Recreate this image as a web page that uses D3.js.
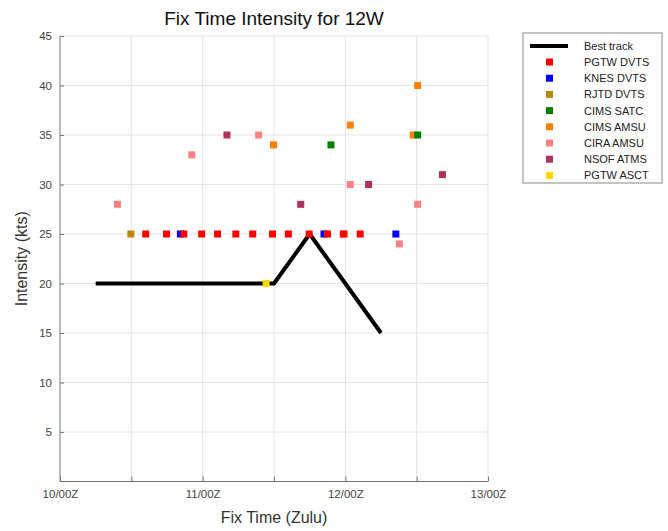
<!doctype html>
<html lang="en">
<head>
	<meta charset="utf-8">
	<title>Fix Time Intensity for 12W</title>
	<script src="https://cdn.jsdelivr.net/npm/d3@7"></script>
	<style>
		body { margin: 0; background: #fff; font-family: "Liberation Sans", Arial, sans-serif; }
		.grid line { stroke: #e4e4e4; }
		.axis text { fill: #444; font-size: 11.5px; }
	</style>
</head>
<body>
	<div id="chart"></div>

	<script>
		// fix times are DD/HH:MM in Zulu
		var xTickLabels = ["10/00Z", "11/00Z", "12/00Z", "13/00Z"];
		var yTicks = [5, 10, 15, 20, 25, 30, 35, 40, 45];

		var bestTrackTimes = ["10/06:00", "10/12:00", "10/18:00", "11/00:00", "11/06:00", "11/12:00", "11/18:00", "12/00:00", "12/06:00"];
		var bestTrackKts = [20, 20, 20, 20, 20, 20, 25, 20, 15];

		var pgtwDvtsTimes = ["10/14:25", "10/17:55", "10/20:50", "10/23:50", "11/02:30", "11/05:35", "11/08:25", "11/11:45", "11/14:25", "11/17:55", "11/21:00", "11/23:40", "12/02:30"];
		var pgtwDvtsKts = [25, 25, 25, 25, 25, 25, 25, 25, 25, 25, 25, 25, 25];

		var knesDvtsTimes = ["10/20:15", "11/20:25", "12/08:30"];
		var knesDvtsKts = [25, 25, 25];

		var rjtdDvtsTimes = ["10/11:55", "11/23:50"];
		var rjtdDvtsKts = [25, 25];

		var cimsSatcTimes = ["11/21:35", "12/12:10"];
		var cimsSatcKts = [34, 35];

		var cimsAmsuTimes = ["11/11:55", "12/00:50", "12/11:25", "12/12:10"];
		var cimsAmsuKts = [34, 36, 35, 40];

		var ciraAmsuTimes = ["10/09:40", "10/22:10", "11/09:25", "12/00:50", "12/09:05", "12/12:10"];
		var ciraAmsuKts = [28, 33, 35, 30, 24, 28];

		var nsofAtmsTimes = ["11/04:05", "11/16:30", "12/03:55", "12/16:20"];
		var nsofAtmsKts = [35, 28, 30, 31];

		var pgtwAsctTimes = ["11/10:40"];
		var pgtwAsctKts = [20];

		var parseTime = d3.utcParse("%d/%H:%M");

		function makeSeries(name, color, times, kts) {
			return {
				name: name,
				color: color,
				points: times.map(function(t, i) { return { time: parseTime(t), kts: kts[i] }; })
			};
		}

		var series = [
			makeSeries("PGTW DVTS", "#ff0000", pgtwDvtsTimes, pgtwDvtsKts),
			makeSeries("KNES DVTS", "#0000ff", knesDvtsTimes, knesDvtsKts),
			makeSeries("RJTD DVTS", "#b8860b", rjtdDvtsTimes, rjtdDvtsKts),
			makeSeries("CIMS SATC", "#008000", cimsSatcTimes, cimsSatcKts),
			makeSeries("CIMS AMSU", "#ff8000", cimsAmsuTimes, cimsAmsuKts),
			makeSeries("CIRA AMSU", "#ff8080", ciraAmsuTimes, ciraAmsuKts),
			makeSeries("NSOF ATMS", "#b03060", nsofAtmsTimes, nsofAtmsKts),
			makeSeries("PGTW ASCT", "#ffd700", pgtwAsctTimes, pgtwAsctKts)
		];

		var bestTrack = bestTrackTimes.map(function(t, i) { return { time: parseTime(t), kts: bestTrackKts[i] }; });

		var width = 668, height = 531;
		var plotLeft = 60, plotRight = 488, plotTop = 36, plotBottom = 481.5;

		var svg = d3.select("#chart").append("svg")
			.attr("width", width)
			.attr("height", height);

		var x = d3.scaleUtc()
			.domain([parseTime("10/00:00"), parseTime("13/00:00")])
			.range([plotLeft, plotRight]);

		var y = d3.scaleLinear()
			.domain([0, 45])
			.range([plotBottom, plotTop]);

		var halfDays = d3.utcHour.every(12).range(parseTime("10/00:00"), parseTime("13/00:01"));

		// grid
		var grid = svg.append("g").attr("class", "grid");
		grid.selectAll(".vg")
			.data(halfDays.slice(1))
			.enter().append("line")
			.attr("x1", function(d) { return x(d); })
			.attr("x2", function(d) { return x(d); })
			.attr("y1", plotTop)
			.attr("y2", plotBottom);
		grid.selectAll(".hg")
			.data(yTicks)
			.enter().append("line")
			.attr("x1", plotLeft)
			.attr("x2", plotRight)
			.attr("y1", function(d) { return y(d); })
			.attr("y2", function(d) { return y(d); });

		// axes
		var yAxis = svg.append("g")
			.attr("class", "axis")
			.attr("transform", "translate(" + plotLeft + ",0)")
			.call(d3.axisRight(y).tickValues(yTicks).tickSize(4).tickSizeOuter(0));
		yAxis.selectAll("text").attr("x", -8).attr("text-anchor", "end");
		yAxis.select(".domain").attr("stroke", "#777").attr("d", "M0," + plotTop + "V" + plotBottom);
		yAxis.selectAll(".tick line").attr("stroke", "#777");

		var xAxis = svg.append("g")
			.attr("class", "axis")
			.attr("transform", "translate(0," + plotBottom + ")")
			.call(d3.axisTop(x).tickValues(halfDays).tickSize(5).tickSizeOuter(0)
				.tickFormat(function(d) {
					return d.getUTCHours() === 0 ? xTickLabels[d3.utcDay.count(halfDays[0], d)] : "";
				}));
		xAxis.selectAll("text").attr("y", 16).attr("dy", "0");
		xAxis.select(".domain").attr("stroke", "#777").attr("d", "M" + plotLeft + ",0H" + plotRight);
		xAxis.selectAll(".tick line").attr("stroke", "#777");

		// best track
		var line = d3.line()
			.x(function(d) { return x(d.time); })
			.y(function(d) { return y(d.kts); });

		svg.append("path")
			.datum(bestTrack)
			.attr("fill", "none")
			.attr("stroke", "#000")
			.attr("stroke-width", 4)
			.attr("d", line);

		// fixes, last series drawn first
		var markerSize = 7;
		series.slice().reverse().forEach(function(s) {
			svg.append("g").selectAll("rect")
				.data(s.points)
				.enter().append("rect")
				.attr("x", function(d) { return x(d.time) - markerSize / 2; })
				.attr("y", function(d) { return y(d.kts) - markerSize / 2; })
				.attr("width", markerSize)
				.attr("height", markerSize)
				.attr("fill", s.color);
		});

		// titles
		svg.append("text")
			.attr("x", (plotLeft + plotRight) / 2)
			.attr("y", 25)
			.attr("text-anchor", "middle")
			.attr("font-size", "19px")
			.attr("fill", "#111")
			.text("Fix Time Intensity for 12W");

		svg.append("text")
			.attr("x", (plotLeft + plotRight) / 2)
			.attr("y", 523)
			.attr("text-anchor", "middle")
			.attr("font-size", "16px")
			.attr("fill", "#333")
			.text("Fix Time (Zulu)");

		svg.append("text")
			.attr("transform", "translate(27," + ((plotTop + plotBottom) / 2) + ") rotate(-90)")
			.attr("text-anchor", "middle")
			.attr("font-size", "16px")
			.attr("fill", "#333")
			.text("Intensity (kts)");

		// legend
		var legend = svg.append("g").attr("transform", "translate(523,33)");
		legend.append("rect")
			.attr("width", 139)
			.attr("height", 150)
			.attr("fill", "#fff")
			.attr("stroke", "#888");

		legend.append("line")
			.attr("x1", 7).attr("x2", 45)
			.attr("y1", 13).attr("y2", 13)
			.attr("stroke", "#000")
			.attr("stroke-width", 4);
		legend.append("text")
			.attr("x", 61).attr("y", 17)
			.attr("font-size", "11px")
			.attr("fill", "#222")
			.text("Best track");

		var items = legend.selectAll(".item")
			.data(series)
			.enter().append("g")
			.attr("transform", function(d, i) { return "translate(0," + (29 + i * 16.2) + ")"; });
		items.append("rect")
			.attr("x", 23).attr("y", -3.5)
			.attr("width", markerSize).attr("height", markerSize)
			.attr("fill", function(d) { return d.color; });
		items.append("text")
			.attr("x", 61).attr("y", 4)
			.attr("font-size", "11px")
			.attr("fill", "#222")
			.text(function(d) { return d.name; });
	</script>
</body>
</html>
